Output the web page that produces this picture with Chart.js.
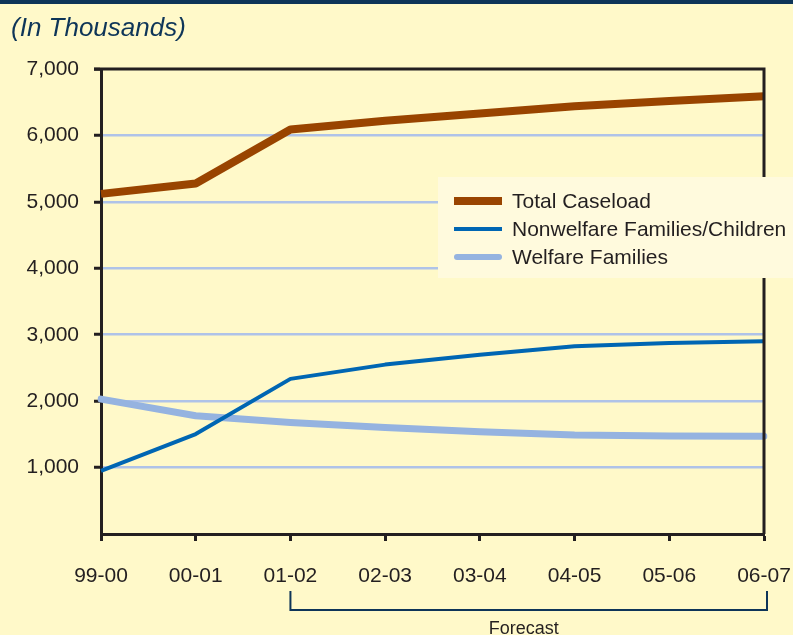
<!DOCTYPE html>
<html>
<head>
<meta charset="utf-8">
<script src="https://cdn.jsdelivr.net/npm/chart.js@4/dist/chart.umd.min.js"></script>
<style>
  html, body { margin: 0; padding: 0; background: #FFF9C9; }
  #wrap { width: 793px; height: 635px; position: relative; }
</style>
</head>
<body>
<div id="wrap"><canvas id="c" width="793" height="635"></canvas></div>
<script>
// Fiscal years (first three actual, remainder forecast)
const categories = ['99-00', '00-01', '01-02', '02-03', '03-04', '04-05', '05-06', '06-07'];
const forecastFrom = '01-02';

// Caseload, in thousands
const totalCaseload = [5120, 5275, 6090, 6220, 6330, 6440, 6520, 6590];
const nonwelfareFamilies = [950, 1505, 2335, 2550, 2700, 2825, 2875, 2900];
const welfareFamilies = [2030, 1780, 1680, 1605, 1540, 1490, 1475, 1470];

// Value axis
const yMin = 0;
const yMax = 7000;
const yStep = 1000;

const seriesNames = ['Total Caseload', 'Nonwelfare Families/Children', 'Welfare Families'];
const titleText = '(In Thousands)';
const forecastText = 'Forecast';

const FONT = '"Liberation Sans", Arial, Helvetica, sans-serif';
const INK = '#231F20';
const NAVY = '#0E3558';
const AXIS = '#231F20';
const GRID = '#AFC3E8';
const BG = '#FFF9C9';
const LEGEND_BG = '#FFFADD';

const decor = {
  id: 'decor',
  beforeDraw(chart) {
    const ctx = chart.ctx;
    ctx.save();
    ctx.fillStyle = BG;
    ctx.fillRect(0, 0, chart.width, chart.height);
    // navy band along the top edge
    ctx.fillStyle = NAVY;
    ctx.fillRect(0, 0, chart.width, 4);
    // subtitle
    ctx.fillStyle = NAVY;
    ctx.font = 'italic 26px ' + FONT;
    ctx.textBaseline = 'alphabetic';
    ctx.textAlign = 'left';
    ctx.fillText(titleText, 11, 36);
    ctx.restore();
  },
  afterDraw(chart) {
    const ctx = chart.ctx;
    const a = chart.chartArea;
    const xs = chart.scales.x;
    ctx.save();
    // top and right frame of the plot
    ctx.strokeStyle = AXIS;
    ctx.lineWidth = 3;
    ctx.beginPath();
    ctx.moveTo(a.left - 7, a.top);
    ctx.lineTo(a.right, a.top);
    ctx.lineTo(a.right, a.bottom);
    ctx.stroke();

    // forecast bracket under the axis labels
    const x0 = xs.getPixelForValue(categories.indexOf(forecastFrom));
    const x1 = xs.getPixelForValue(categories.length - 1) + 3;
    const yTop = a.bottom + 57, yBot = a.bottom + 76;
    ctx.strokeStyle = NAVY;
    ctx.lineWidth = 2;
    ctx.beginPath();
    ctx.moveTo(x0, yTop);
    ctx.lineTo(x0, yBot);
    ctx.lineTo(x1, yBot);
    ctx.lineTo(x1, yTop);
    ctx.stroke();
    ctx.fillStyle = INK;
    ctx.font = '18px ' + FONT;
    ctx.textAlign = 'center';
    ctx.textBaseline = 'alphabetic';
    ctx.fillText(forecastText, (x0 + x1) / 2 - 5, yBot + 24);

    // legend box
    const lx = 438, ly = 177, lw = chart.width - lx + 2, lh = 101;
    ctx.fillStyle = LEGEND_BG;
    ctx.fillRect(lx, ly, lw, lh);
    ctx.font = '21px ' + FONT;
    ctx.textAlign = 'left';
    ctx.textBaseline = 'middle';
    chart.data.datasets.forEach((ds, i) => {
      const ry = ly + 24 + i * 28;
      ctx.strokeStyle = ds.borderColor;
      ctx.lineWidth = ds.legendWidth;
      ctx.lineCap = ds.borderCapStyle || 'butt';
      const inset = ctx.lineCap === 'round' ? ds.legendWidth / 2 : 0;
      ctx.beginPath();
      ctx.moveTo(454 + inset, ry);
      ctx.lineTo(502 - inset, ry);
      ctx.stroke();
      ctx.fillStyle = INK;
      ctx.fillText(ds.label, 512, ry + 1);
    });
    ctx.restore();
  }
};

new Chart(document.getElementById('c'), {
  type: 'line',
  data: {
    labels: categories,
    datasets: [
      {
        label: seriesNames[0], data: totalCaseload,
        borderColor: '#994400', borderWidth: 8, legendWidth: 8,
        borderJoinStyle: 'bevel', borderCapStyle: 'butt'
      },
      {
        label: seriesNames[1], data: nonwelfareFamilies,
        borderColor: '#0066B3', borderWidth: 4, legendWidth: 4,
        borderJoinStyle: 'round', borderCapStyle: 'butt'
      },
      {
        label: seriesNames[2], data: welfareFamilies,
        borderColor: '#95B3E0', borderWidth: 7, legendWidth: 6,
        borderJoinStyle: 'round', borderCapStyle: 'round'
      }
    ]
  },
  options: {
    responsive: false,
    animation: false,
    devicePixelRatio: 1,
    layout: { padding: { top: 69, right: 29, left: 0, bottom: 0 } },
    elements: { point: { radius: 0, hoverRadius: 0 }, line: { tension: 0 } },
    plugins: {
      legend: { display: false },
      title: { display: false },
      tooltip: { enabled: false }
    },
    scales: {
      x: {
        offset: false,
        ticks: {
          color: INK, font: { family: FONT, size: 21 },
          padding: 23, maxRotation: 0, autoSkip: false
        },
        grid: {
          drawOnChartArea: false, drawTicks: true,
          tickColor: AXIS, tickLength: 7, tickWidth: 3
        },
        border: { color: AXIS, width: 3 },
        afterFit(s) { s.height = 101; s.paddingLeft = 0; s.paddingRight = 0; }
      },
      y: {
        min: yMin, max: yMax,
        ticks: {
          stepSize: yStep, color: INK, font: { family: FONT, size: 21 }, padding: 15,
          callback: v => v === yMin ? '' : v.toLocaleString('en-US')
        },
        grid: {
          color: c => (c.tick && c.tick.value > yMin && c.tick.value < yMax) ? GRID : 'rgba(0,0,0,0)',
          lineWidth: 2.5,
          drawTicks: true,
          tickColor: c => (c.tick && c.tick.value === yMin) ? 'rgba(0,0,0,0)' : AXIS,
          tickLength: 7, tickWidth: 3
        },
        border: { color: AXIS, width: 3 },
        afterFit(s) { s.width = 101; }
      }
    }
  },
  plugins: [decor]
});
</script>
</body>
</html>
